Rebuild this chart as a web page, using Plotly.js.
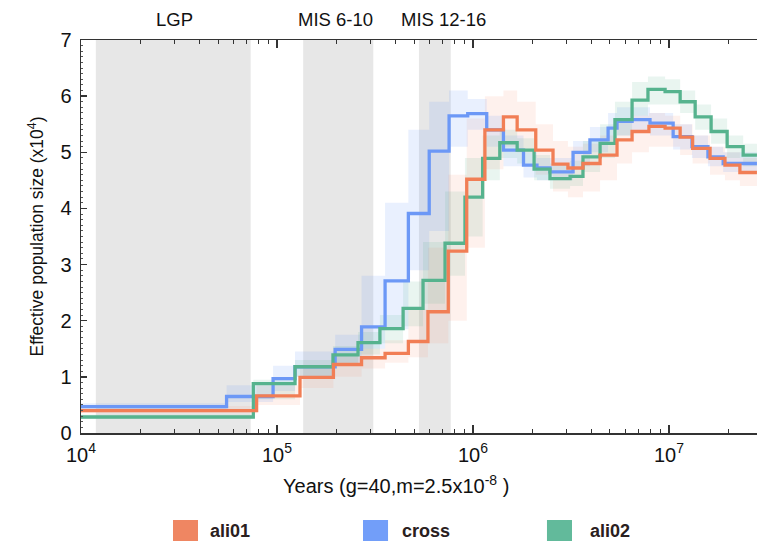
<!DOCTYPE html>
<html><head><meta charset="utf-8">
<script src="https://cdn.plot.ly/plotly-3.0.1.min.js"></script>
<style>html,body{margin:0;padding:0;background:#fff}#chart{width:757px;height:541px}</style>
</head><body><div id="chart"></div>
<script>
// ---- data (years, Ne x10^4) ----
const seriesNames = ['ali01', 'cross', 'ali02'];

const ali01X  = [1e4, 7.87e4, 1.31e5, 1.94e5, 2.70e5, 3.56e5, 4.68e5, 5.89e5, 7.48e5, 9.29e5, 1.15e6, 1.43e6, 1.68e6, 2.09e6, 2.56e6, 3.05e6, 3.64e6, 4.45e6, 5.43e6, 6.48e6, 7.9e6, 9.55e6, 1.14e7, 1.32e7, 1.62e7, 1.93e7, 2.30e7, 2.81e7];
const ali01Y  = [0.40, 0.66, 0.99, 1.22, 1.34, 1.42, 1.63, 2.16, 3.24, 4.52, 5.40, 5.63, 5.40, 5.04, 4.79, 4.72, 4.80, 4.95, 5.22, 5.37, 5.46, 5.43, 5.27, 5.07, 4.89, 4.77, 4.64, 4.64];
const ali01Hi = [0.48, 0.85, 1.15, 1.40, 1.50, 1.65, 2.20, 3.30, 4.60, 5.60, 6.00, 6.10, 5.90, 5.50, 5.20, 5.10, 5.15, 5.30, 5.55, 5.65, 5.70, 5.65, 5.50, 5.30, 5.10, 5.00, 4.90, 4.90];
const ali01Lo = [0.35, 0.50, 0.80, 1.00, 1.15, 1.25, 1.35, 1.60, 2.00, 3.30, 4.70, 5.10, 5.00, 4.60, 4.30, 4.20, 4.30, 4.50, 4.80, 5.00, 5.10, 5.10, 4.95, 4.80, 4.60, 4.50, 4.40, 4.40];

const crossX  = [1e4, 5.53e4, 9.55e4, 1.236e5, 1.98e5, 2.70e5, 3.56e5, 4.68e5, 5.98e5, 7.55e5, 9.4e5, 1.175e6, 1.43e6, 1.81e6, 2.12e6, 2.47e6, 3.24e6, 3.95e6, 4.89e6, 5.43e6, 6.48e6, 8.0e6, 1.05e7, 1.31e7, 1.58e7, 1.89e7, 2.81e7];
const crossY  = [0.47, 0.65, 0.97, 1.18, 1.49, 1.89, 2.71, 3.91, 5.02, 5.65, 5.69, 5.40, 5.04, 4.77, 4.72, 4.65, 5.00, 5.22, 5.43, 5.55, 5.58, 5.52, 5.28, 5.10, 4.92, 4.80, 4.80];
const crossHi = [0.53, 0.85, 1.20, 1.45, 1.75, 2.80, 4.10, 5.40, 5.90, 6.10, 5.95, 5.65, 5.30, 5.00, 4.90, 4.90, 5.20, 5.45, 5.70, 5.80, 5.80, 5.70, 5.50, 5.30, 5.10, 5.00, 5.00];
const crossLo = [0.42, 0.55, 0.75, 1.00, 1.25, 1.50, 1.85, 2.90, 3.60, 5.10, 5.40, 5.10, 4.75, 4.55, 4.50, 4.50, 4.75, 5.00, 5.20, 5.30, 5.35, 5.30, 5.05, 4.90, 4.75, 4.65, 4.65];

const ali02X  = [1e4, 7.57e4, 1.236e5, 1.93e5, 2.59e5, 3.35e5, 4.40e5, 5.56e5, 7.20e5, 9.1e5, 1.12e6, 1.37e6, 1.68e6, 2.05e6, 2.47e6, 3.13e6, 3.64e6, 4.45e6, 5.30e6, 6.48e6, 7.81e6, 9.55e6, 1.14e7, 1.36e7, 1.64e7, 1.98e7, 2.39e7, 2.81e7];
const ali02Y  = [0.285, 0.88, 1.18, 1.39, 1.61, 1.86, 2.22, 2.72, 3.38, 4.20, 4.89, 5.17, 5.04, 4.70, 4.53, 4.57, 4.92, 5.16, 5.58, 5.93, 6.12, 6.08, 5.90, 5.63, 5.37, 5.10, 4.95, 4.95];
const ali02Hi = [0.33, 0.95, 1.30, 1.55, 1.80, 2.10, 2.70, 3.40, 4.30, 4.90, 5.30, 5.40, 5.25, 4.95, 4.80, 4.85, 5.20, 5.50, 5.90, 6.25, 6.35, 6.30, 6.10, 5.85, 5.60, 5.30, 5.15, 5.15];
const ali02Lo = [0.25, 0.60, 1.00, 1.20, 1.40, 1.60, 1.90, 2.30, 2.80, 3.50, 4.50, 4.90, 4.80, 4.50, 4.35, 4.40, 4.65, 4.90, 5.30, 5.65, 5.85, 5.85, 5.70, 5.40, 5.15, 4.90, 4.75, 4.75];

const periodNames = ['LGP', 'MIS 6-10', 'MIS 12-16'];
const periodStart = [1.19e4, 1.36e5, 5.3e5];
const periodEnd   = [7.34e4, 3.1e5, 7.7e5];

const xTickVals = [1e4, 1e5, 1e6, 1e7];
const xTickText = ['10<sup>4</sup>', '10<sup>5</sup>', '10<sup>6</sup>', '10<sup>7</sup>'];

// ---- styling ----
const lineColors = ['#F17E55', '#6C98F6', '#56B38E'];
const swatchColors = ['#EF8662', '#729EF9', '#62BA9B'];
const hazeColors = ['rgba(244,150,118,0.13)', 'rgba(108,152,246,0.15)', 'rgba(86,179,142,0.13)'];
const FONT = 'Liberation Sans, Arial, sans-serif';

function stepBand(x, lo, hi) {
  const px = [], py = [];
  for (let i = 0; i < x.length - 1; i++) { px.push(x[i], x[i + 1]); py.push(hi[i], hi[i]); }
  for (let i = x.length - 2; i >= 0; i--) { px.push(x[i + 1], x[i]); py.push(lo[i], lo[i]); }
  px.push(px[0]); py.push(py[0]);
  return { px, py };
}

const traces = [];
periodStart.forEach((s, i) => {
  traces.push({
    type: 'scatter', mode: 'lines', x: [s, periodEnd[i], periodEnd[i], s, s], y: [0, 0, 7, 7, 0],
    fill: 'toself', fillcolor: '#e7e7e7', line: { width: 0 }, hoverinfo: 'skip', showlegend: false
  });
});

const sets = [
  [ali01X, ali01Y, ali01Lo, ali01Hi],
  [crossX, crossY, crossLo, crossHi],
  [ali02X, ali02Y, ali02Lo, ali02Hi]
];
sets.forEach((s, i) => {
  const b = stepBand(s[0], s[2], s[3]);
  traces.push({
    type: 'scatter', mode: 'lines', x: b.px, y: b.py, fill: 'toself',
    fillcolor: hazeColors[i], line: { width: 0 }, hoverinfo: 'skip', showlegend: false
  });
});
[1, 2, 0].forEach(i => {
  const s = sets[i];
  traces.push({
    type: 'scatter', mode: 'lines', name: seriesNames[i], x: s[0], y: s[1],
    line: { shape: 'hv', color: lineColors[i], width: 3.3 }, showlegend: false
  });
});

const shapes = [];
const annotations = [];
const legendX0 = [0.1361, 0.4172, 0.6893];
const labelX = [0.1879, 0.4719, 0.7500];
seriesNames.forEach((n, i) => {
  shapes.push({ type: 'rect', xref: 'paper', yref: 'paper', x0: legendX0[i], x1: legendX0[i] + 0.037,
    y0: -0.2214, y1: -0.2875, fillcolor: swatchColors[i], line: { width: 0 } });
  annotations.push({ xref: 'paper', yref: 'paper', x: labelX[i], y: -0.2494, xanchor: 'left', yanchor: 'middle',
    text: '<b>' + n + '</b>', showarrow: false, font: { family: FONT, size: 18, color: '#2a2020' } });
});
const periodLabelX = [0.139, 0.3765, 0.5362];
periodNames.forEach((n, i) => {
  annotations.push({ xref: 'paper', yref: 'paper', x: periodLabelX[i], y: 1.051, xanchor: 'center', yanchor: 'middle',
    text: n, showarrow: false, font: { family: FONT, size: 18.5, color: '#111' } });
});
annotations.push({ xref: 'paper', yref: 'paper', x: 0.4667, y: -0.1298, xanchor: 'center', yanchor: 'middle',
  text: 'Years (g=40,m=2.5x10<sup>-8</sup> )', showarrow: false, font: { family: FONT, size: 20, color: '#111' } });

const layout = {
  width: 757, height: 541,
  margin: { l: 81, r: 0, t: 40, b: 108 },
  paper_bgcolor: '#fff', plot_bgcolor: '#fff',
  showlegend: false,
  font: { family: FONT, color: '#111' },
  xaxis: {
    type: 'log', range: [4, 7.449], showgrid: false, zeroline: false,
    showline: true, linecolor: '#333', linewidth: 1.5, mirror: 'ticks',
    ticks: 'inside', ticklen: 8, tickwidth: 1.3, tickcolor: '#333',
    tickvals: xTickVals, ticktext: xTickText, tickfont: { family: FONT, size: 20, color: '#111' },
    ticklabelstandoff: 3,
    minor: { ticks: 'inside', ticklen: 4, tickwidth: 1, tickcolor: '#333', dtick: 'D1', showgrid: false }
  },
  yaxis: {
    range: [0, 7], showgrid: false, zeroline: false,
    showline: true, linecolor: '#333', linewidth: 1.5,
    ticks: 'inside', ticklen: 6, tickwidth: 1.3, tickcolor: '#333', dtick: 1,
    tickfont: { family: FONT, size: 20, color: '#111' }, ticklabelstandoff: 4,
    minor: { ticks: 'inside', ticklen: 2, tickwidth: 1, tickcolor: '#555', dtick: 0.1, showgrid: false },
    title: { text: 'Effective population size (x10<sup>4</sup>)', font: { family: FONT, size: 17.5, color: '#111' }, standoff: 12 }
  },
  shapes: shapes,
  annotations: annotations
};

Plotly.newPlot('chart', traces, layout, { displayModeBar: false, staticPlot: true });
</script></body></html>
